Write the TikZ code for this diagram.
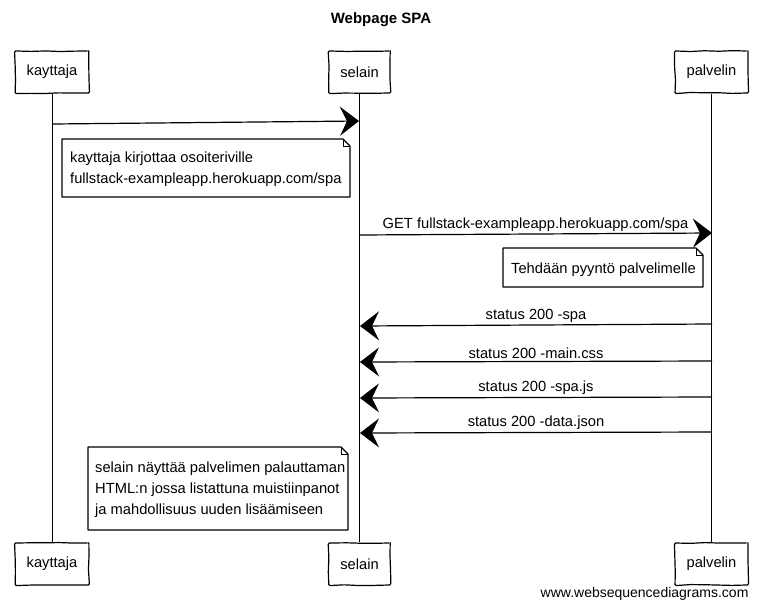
\documentclass[tikz,border=0pt]{standalone}
\usepackage{fontspec}
\setmainfont{Liberation Sans}
\usetikzlibrary{arrows.meta,decorations.pathmorphing}
\begin{document}
\begin{tikzpicture}[x=1pt,y=-1pt,
  every node/.style={font=\fontsize{14.7}{21}\selectfont, text=black},
  sketch/.style={decorate, decoration={random steps, segment length=14pt, amplitude=0.55pt}, rounded corners=1.2pt},
  actor/.style={draw, line width=1.2pt, fill=white, inner xsep=11.5pt, inner ysep=0pt, minimum height=42pt, sketch},
  lifeline/.style={line width=0.9pt},
  msg/.style={line width=1.2pt, -{Stealth[length=19pt, width=29pt, inset=7pt]}},
  msglabel/.style={midway, above=1pt, inner sep=1pt},
  notetext/.style={anchor=west, align=left, inner sep=0pt},
  noteline/.style={line width=1.1pt, fill=white, line join=round},
  foldline/.style={line width=0.8pt}
]
\path[use as bounding box] (0,0) rectangle (761,608);

% title
\node[font=\fontsize{15}{18}\bfseries\selectfont] (title) at (381,20) {Webpage SPA};

% participants, top and bottom
\node[actor] (kt) at (52,72) {kayttaja};
\node[actor] (st) at (359.5,72) {selain};
\node[actor] (pt) at (711.5,72) {palvelin};
\node[actor] (kb) at (52,564) {kayttaja};
\node[actor] (sb) at (359.5,564) {selain};
\node[actor] (pb) at (711.5,564) {palvelin};

% lifelines
\draw[lifeline] (kt.south) -- (kb.north);
\draw[lifeline] (st.south) -- (sb.north);
\draw[lifeline] (pt.south) -- (pb.north);

% note outline with a folded top-right corner: left, top, right, bottom
\newcommand\drawnote[4]{%
  \draw[noteline] (#1,#2) -- (#3-7,#2) -- (#3,#2+7) -- (#3,#4) -- (#1,#4) -- cycle;
  \draw[foldline] (#3-7,#2) -- (#3-7,#2+7) -- (#3,#2+7);
}

% kayttaja -> selain
\coordinate (k1) at (53,124);
\coordinate (s1) at (359,121);
\draw[msg] (k1) -- (s1);

\drawnote{62}{139}{350}{197}
\node[notetext] (n1) at (70,169)
  {kayttaja kirjottaa osoiteriville\\fullstack-exampleapp.herokuapp.com/spa};

% selain -> palvelin
\coordinate (s2) at (359,235);
\coordinate (p2) at (712,233);
\draw[msg] (s2) -- node[msglabel] (l2) {GET fullstack-exampleapp.herokuapp.com/spa} (p2);

\drawnote{503}{248}{703}{287}
\node[notetext] (n2) at (511,270) {Tehdään pyyntö palvelimelle};

% palvelin -> selain responses
\coordinate (p3) at (712,324);
\coordinate (s3) at (360,326);
\draw[msg] (p3) -- node[msglabel] (l3) {status 200 -spa} (s3);

\coordinate (p4) at (712,361);
\coordinate (s4) at (360,362);
\draw[msg] (p4) -- node[msglabel] (l4) {status 200 -main.css} (s4);

\coordinate (p5) at (712,397);
\coordinate (s5) at (360,398);
\draw[msg] (p5) -- node[msglabel] (l5) {status 200 -spa.js} (s5);

\coordinate (p6) at (712,432);
\coordinate (s6) at (360,433);
\draw[msg] (p6) -- node[msglabel] (l6) {status 200 -data.json} (s6);

\drawnote{88}{447}{348}{530}
\node[notetext] (n3) at (95,489.5)
  {selain näyttää palvelimen palauttaman\\HTML:n jossa listattuna muistiinpanot\\ja mahdollisuus uuden lisäämiseen};

% footer
\node[anchor=east, font=\fontsize{14}{16}\selectfont] (footer) at (752,594) {www.websequencediagrams.com};
\end{tikzpicture}
\end{document}
